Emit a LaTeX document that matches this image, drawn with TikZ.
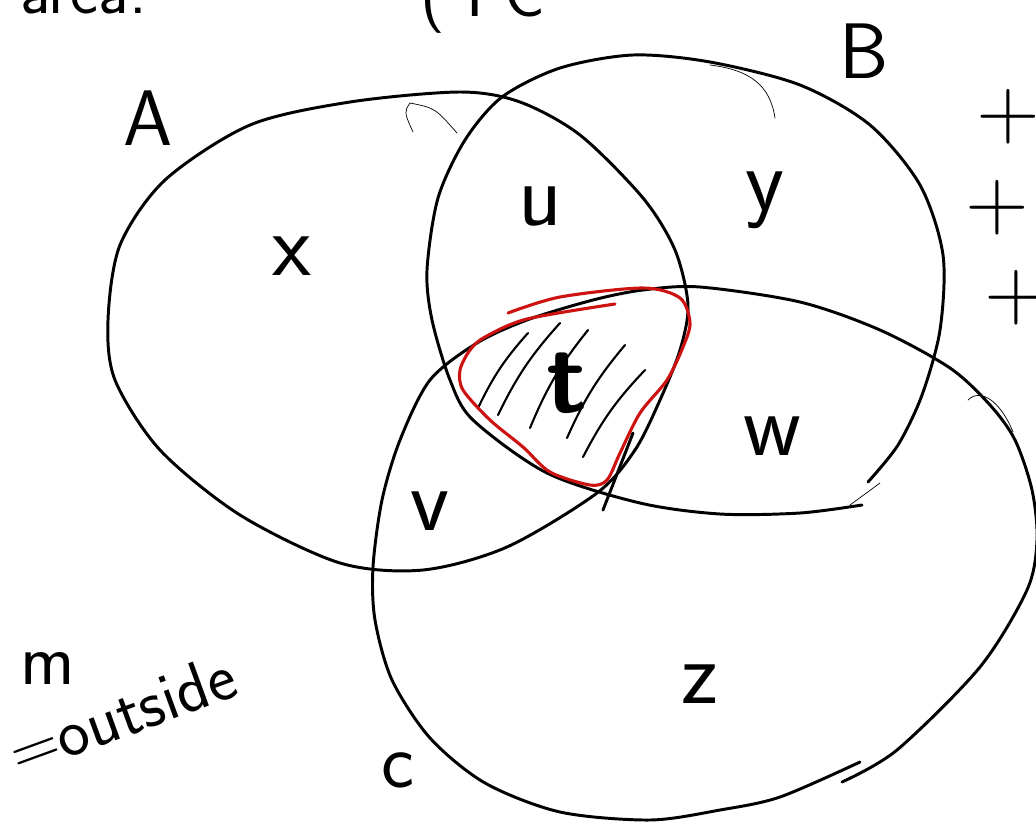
\documentclass[tikz,border=0pt]{standalone}
\usepackage{xcolor}
\usepackage{tikz}
\usetikzlibrary{positioning}
\definecolor{sketchred}{RGB}{205,18,18}

\begin{document}
\begin{tikzpicture}[
        x=0.025cm, y=-0.025cm,
        ring/.style={line width=2.1pt, line cap=round, line join=round},
        stray/.style={line width=0.5pt, line cap=round},
        hatch/.style={line width=1.5pt, line cap=round},
        redline/.style={draw=sketchred, line width=2.2pt, line cap=round, line join=round},
        lbl/.style={font=\fontsize{64}{70}\selectfont\sffamily, inner sep=0pt, anchor=base},
        setname/.style={font=\fontsize{56}{60}\selectfont\sffamily, inner sep=0pt, anchor=base},
        plus/.style={font=\fontsize{62}{66}\selectfont\sffamily, inner sep=0pt},
        note/.style={font=\fontsize{48}{52}\selectfont\sffamily, inner sep=0pt, anchor=base west}
    ]
        \useasboundingbox (0,0) rectangle (1036,823);
        \clip (0,0) rectangle (1036,823);

        % the three sets
        \draw[ring] plot[smooth cycle] coordinates {(460,92) (520,102) (580,135) (643,198)
            (675,250) (688,305) (680,350) (660,400) (635,450) (597,493) (507,547) (423,570)
            (340,563) (240,515) (160,450) (115,380) (108,320) (120,245) (165,180) (250,125) (350,102)};
        \draw[ring] plot[smooth] coordinates {(862,505) (800,513) (720,514) (640,503) (547,473)
            (473,420) (450,380) (432,320) (427,270) (438,198) (465,140) (502,97) (560,68) (633,55)
            (710,62) (800,85) (870,125) (920,185) (943,255) (940,330) (922,395) (898,445) (868,482)};
        \draw[ring] plot[smooth] coordinates {(842,782) (897,750) (980,667) (1027,590) (1037,540)
            (1032,490) (1015,440) (990,405) (950,368) (880,330) (800,302) (700,287) (643,290)
            (593,300) (527,320) (477,343) (430,380) (400,440) (382,500) (373,567) (375,620)
            (392,680) (430,738) (485,783) (560,812) (650,820) (720,810) (780,797) (860,762)};
        \draw[ring] (603,510) -- (633,433);

        \draw[stray] (410,103) .. controls (404,112) .. (413,132);
        \draw[stray] (410,103) .. controls (435,108) .. (457,133);
        \draw[stray] (710,65) .. controls (750,70) and (770,85) .. (775,118);
        \draw[stray] (968,400) .. controls (980,388) and (1000,400) .. (1013,432);
        \draw[stray] (850,505) -- (880,483);

        % shaded middle part
        \draw[hatch] (478,408) to[bend left=8] (528,333);
        \draw[hatch] (498,415) to[bend left=8] (560,323);
        \draw[hatch] (530,428) to[bend left=8] (588,330);
        \draw[hatch] (567,438) to[bend left=8] (625,345);
        \draw[hatch] (583,457) to[bend left=8] (645,370);
        \draw[redline] plot[smooth] coordinates {(508,313) (560,297) (643,288) (680,298) (690,323)
            (683,347) (667,380) (640,413) (620,453) (607,480) (590,485) (550,472) (523,447)
            (490,420) (463,390) (460,370) (470,350) (485,337) (527,319) (615,304)};

        \node[lbl] (lx) at (292,275) {x};
        \node[lbl] (lu) at (540,225) {u};
        \node[lbl] (ly) at (765,210) {y};
        \node[lbl] (lw) at (772,455) {w};
        \node[lbl] (lv) at (430,530) {v};
        \node[lbl] (lz) at (700,703) {z};
        \node[lbl, font=\fontsize{72}{76}\selectfont\sffamily\bfseries] (lt) at (567,412) {t};

        \node[setname] (nameA) at (148,145) {A};
        \node[setname] (nameB) at (864,78) {B};
        \node[setname] (nameC) at (398,787) {c};

        \node[plus] (p1) at (1008,117) {+};
        \node[plus] (p2) at (997,208) {+};
        \node[plus] (p3) at (1016,298) {+};

        \node[setname, font=\fontsize{52}{56}\selectfont\sffamily] (m) at (48,684) {m};
        \node[note, rotate=20] (outside) at (18,776) {=outside};

        \node[note] (area) at (20,13) {area:};
        \node[note] (topnote) at (420,16) {( I C};
\end{tikzpicture}
\end{document}
